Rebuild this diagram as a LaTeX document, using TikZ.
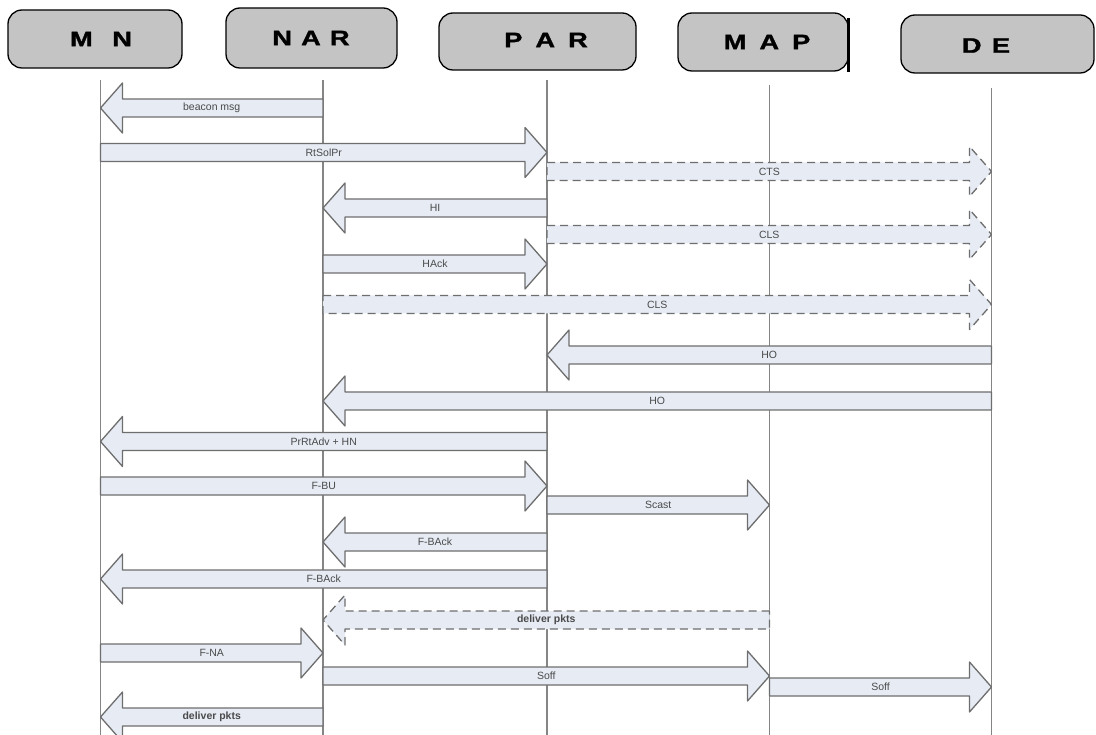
\documentclass[tikz,border=0pt]{standalone}
\usepackage{fontspec}
\usepackage{graphicx}
\setmainfont{Liberation Sans}
\newfontfamily\hdrfont[FakeBold=1.2]{Liberation Sans Bold}
\usetikzlibrary{calc}
\definecolor{arrfill}{HTML}{E6EBF4}
\definecolor{arrline}{HTML}{6E6E6E}
\definecolor{lifelinecol}{HTML}{858585}
\definecolor{hdrfill}{HTML}{C4C4C4}
\definecolor{lblcol}{HTML}{4A4A4A}
\newcommand\hdrtext[1]{\scalebox{1.3}[1]{\fontsize{21}{21}\hdrfont #1}}
\newcommand\msg[5][blockarrow]{%
  \coordinate (mt) at (#2 |- 0,#4);
  \coordinate (mh) at (#3 |- 0,#4);
  \coordinate (mb) at ($(mh)!22pt!(mt)$);
  \draw[#1] ($(mt)+(0,-9)$) -- ($(mb)+(0,-9)$) -- ($(mb)+(0,-25)$) -- (mh)
     -- ($(mb)+(0,25)$) -- ($(mb)+(0,9)$) -- ($(mt)+(0,9)$) -- cycle;
  \node[msglabel] at ($(mt)!0.5!(mh)$) {#5};}
\tikzset{
 hdrbox/.style={draw=black, line width=1.3pt, fill=hdrfill, rounded corners=14pt, inner sep=0pt},
 hdrlabel/.style={inner sep=0pt, text=black},
 lifelinestyle/.style={draw=lifelinecol, line width=1.4pt},
 blockarrow/.style={draw=arrline, fill=arrfill, line width=1.3pt, line join=round},
 dashedarrow/.style={blockarrow, dash pattern=on 8pt off 5pt},
 msglabel/.style={font=\fontsize{10.5}{12}\selectfont, text=lblcol, inner sep=1pt}
}
\begin{document}
\begin{tikzpicture}[x=1pt,y=-1pt]
\useasboundingbox (0,0) rectangle (1096,735);
% header boxes
\node[hdrbox, minimum width=174pt, minimum height=58pt] (MNbox) at (95,39) {};
\node[hdrlabel] (MNlbl) at (101,39) {\hdrtext{M\hspace{15pt}N}};
\node[hdrbox, minimum width=171pt, minimum height=60pt] (NARbox) at (311.5,38) {};
\node[hdrlabel] (NARlbl) at (311,38) {\hdrtext{N\hspace{7pt}A\hspace{7pt}R}};
\node[hdrbox, minimum width=197pt, minimum height=57pt] (PARbox) at (537.5,41.5) {};
\node[hdrlabel] (PARlbl) at (546,40) {\hdrtext{P\hspace{10pt}A\hspace{10pt}R}};
\node[hdrbox, minimum width=170pt, minimum height=58pt] (MAPbox) at (763,42) {};
\node[hdrlabel] (MAPlbl) at (767,42) {\hdrtext{M\hspace{10pt}A\hspace{10pt}P}};
\draw[line width=3pt] (MAPbox.north east) ++(0,6) -- (MAPbox.south east);
\node[hdrbox, minimum width=193pt, minimum height=58pt] (DEbox) at (997.5,44) {};
\node[hdrlabel] (DElbl) at (986,45.5) {\hdrtext{D\hspace{8pt}E}};
% lifeline coordinates
\coordinate (MN) at (100.5,80);   \coordinate (MN-end) at (100.5,735);
\coordinate (NAR) at (323,80);    \coordinate (NAR-end) at (323,735);
\coordinate (PAR) at (547,80);    \coordinate (PAR-end) at (547,735);
\coordinate (MAP) at (769.5,85);  \coordinate (MAP-end) at (769.5,735);
\coordinate (DE) at (991.5,88);   \coordinate (DE-end) at (991.5,735);
% lifelines
\foreach \n in {MN,NAR,PAR,MAP,DE}
  \draw[lifelinestyle] (\n) -- (\n-end);
% messages
\msg{NAR}{MN}{108}{beacon msg}
\msg{MN}{PAR}{152.5}{RtSolPr}
\msg[dashedarrow]{PAR}{DE}{171.5}{CTS}
\msg{PAR}{NAR}{208}{HI}
\msg[dashedarrow]{PAR}{DE}{234.5}{CLS}
\msg{NAR}{PAR}{264}{HAck}
\msg[dashedarrow]{NAR}{DE}{304.5}{CLS}
\msg{DE}{PAR}{355}{HO}
\msg{DE}{NAR}{401}{HO}
\msg{PAR}{MN}{441.5}{PrRtAdv + HN}
\msg{MN}{PAR}{486}{F-BU}
\msg{PAR}{MAP}{505}{Scast}
\msg{PAR}{NAR}{542}{F-BAck}
\msg{PAR}{MN}{579}{F-BAck}
\msg[dashedarrow]{MAP}{NAR}{620}{\textbf{deliver pkts}}
\msg{MN}{NAR}{653}{F-NA}
\msg{NAR}{MAP}{676}{Soff}
\msg{MAP}{DE}{687}{Soff}
\msg{NAR}{MN}{717}{\textbf{deliver pkts}}
\end{tikzpicture}
\end{document}
